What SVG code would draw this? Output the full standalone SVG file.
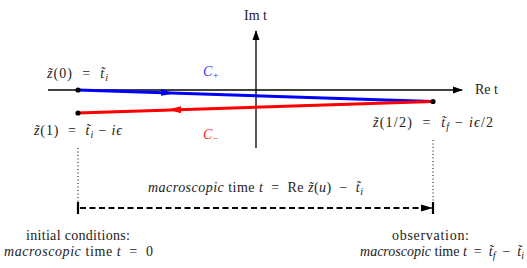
<svg xmlns="http://www.w3.org/2000/svg" width="527" height="268" viewBox="0 0 527 268">
<style>
text{font-family:"Liberation Serif","Times New Roman",serif;font-size:14px;fill:#222}
.i{font-style:italic}
.s{font-size:10px}
.ax{stroke:#000;stroke-width:1.3;fill:none}
.dot{fill:#000}
</style>
<defs>
<marker id="ah" markerWidth="10" markerHeight="8" refX="9" refY="4" orient="auto" markerUnits="userSpaceOnUse"><path d="M0,0.5 L10,4 L0,7.5 z" fill="#000"/></marker>
<marker id="ahb" markerWidth="12" markerHeight="8" refX="11" refY="4" orient="auto" markerUnits="userSpaceOnUse"><path d="M0,0.5 L12,4 L0,7.5 z" fill="#000"/></marker>
</defs>
<g id="axes">
<line class="ax" x1="48" y1="90" x2="462" y2="90" marker-end="url(#ah)"/>
<line class="ax" x1="256" y1="148" x2="256" y2="31" marker-end="url(#ah)"/>
<text x="475" y="94" textLength="23">Re&#160;t</text>
<text x="244" y="20" textLength="23">Im&#160;t</text>
</g>
<g id="connectors">
<line id="cplus" x1="78" y1="90" x2="433" y2="101.5" stroke="#0000ff" stroke-width="3"/>
<path d="M161,88.7 L174,93.6 L161,95.7 z" fill="#0000ff"/>
<line id="cminus" x1="433" y1="101.5" x2="78" y2="113" stroke="#ff0000" stroke-width="3"/>
<path d="M181,106.2 L168,109.6 L181,113.2 z" fill="#ff0000"/>
<line x1="78" y1="148" x2="78" y2="202" stroke="#000" stroke-width="1" stroke-dasharray="1,2.5"/>
<line x1="433" y1="140" x2="433" y2="202" stroke="#000" stroke-width="1" stroke-dasharray="1,2.5"/>
<line x1="80" y1="208" x2="432" y2="208" stroke="#000" stroke-width="2.2" stroke-dasharray="6,3.5" marker-end="url(#ahb)"/>
<line x1="78" y1="202" x2="78" y2="214" stroke="#000" stroke-width="2.2"/>
<line x1="433" y1="202" x2="433" y2="214" stroke="#000" stroke-width="2.2"/>
</g>
<g id="z0">
<circle class="dot" cx="78" cy="90" r="2.6"/>
<text x="47" y="78" textLength="61"><tspan class="i">z̃</tspan>(0)&#160;&#160;=&#160;&#160;<tspan class="i">t̃</tspan><tspan class="i s" dy="3">i</tspan></text>
</g>
<g id="z1">
<circle class="dot" cx="78" cy="113" r="2.6"/>
<text x="34" y="135" textLength="88"><tspan class="i">z̃</tspan>(1)&#160;&#160;=&#160;&#160;<tspan class="i">t̃</tspan><tspan class="i s" dy="3">i</tspan><tspan dy="-3">&#160;−&#160;</tspan><tspan class="i">iϵ</tspan></text>
</g>
<g id="zhalf">
<circle class="dot" cx="433" cy="101.5" r="2.6"/>
<text x="373" y="127" textLength="120"><tspan class="i">z̃</tspan>(1/2)&#160;&#160;=&#160;&#160;<tspan class="i">t̃</tspan><tspan class="i s" dy="3">f</tspan><tspan dy="-3">&#160;−&#160;</tspan><tspan class="i">iϵ</tspan>/2</text>
</g>
<g id="cplus-label"><text x="203" y="76" style="fill:#3333ff" class="i">C<tspan class="s" dy="3">+</tspan></text></g>
<g id="cminus-label"><text x="203" y="139" style="fill:#ff2222" class="i">C<tspan class="s" dy="3">−</tspan></text></g>
<g id="macro">
<text x="148" y="192" textLength="215"><tspan class="i">macroscopic</tspan> time <tspan class="i">t</tspan>&#160;&#160;=&#160;&#160;Re <tspan class="i">z̃</tspan>(<tspan class="i">u</tspan>)&#160;&#160;−&#160;&#160;<tspan class="i">t̃</tspan><tspan class="i s" dy="3">i</tspan></text>
</g>
<g id="initial">
<text x="26" y="240" textLength="104">initial conditions:</text>
<text x="4" y="256" textLength="149"><tspan class="i">macroscopic</tspan> time <tspan class="i">t</tspan>&#160;&#160;=&#160;&#160;0</text>
</g>
<g id="observation">
<text x="392" y="240" textLength="77">observation:</text>
<text x="524" y="256" text-anchor="end"><tspan class="i">macroscopic</tspan> time <tspan class="i">t</tspan>&#160;&#160;=&#160;&#160;<tspan class="i">t̃</tspan><tspan class="i s" dy="3">f</tspan><tspan dy="-3">&#160;&#160;−&#160;&#160;</tspan><tspan class="i">t̃</tspan><tspan class="i s" dy="3">i</tspan></text>
</g>
</svg>
